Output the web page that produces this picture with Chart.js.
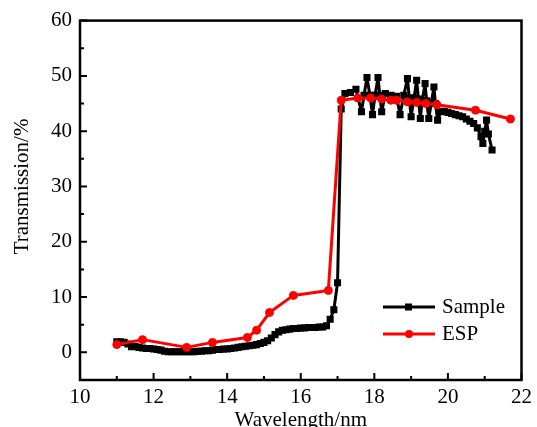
<!DOCTYPE html>
<html>
<head>
<meta charset="utf-8">
<title>Transmission</title>
<script src="https://cdn.jsdelivr.net/npm/chart.js@4.4.0/dist/chart.umd.min.js"></script>
<style>
    html, body { margin: 0; padding: 0; background: #fff; }
    #wrap { width: 537px; height: 427px; }
</style>
</head>
<body>
<div id="wrap"><canvas id="transChart"></canvas></div>
<script>
// Measured sample (black squares)
const sampleWavelength = [
    11.0, 11.1, 11.2, 11.3, 11.4, 11.5, 11.6, 11.7, 11.8, 11.9,
    12.0, 12.1, 12.2, 12.3, 12.4, 12.5, 12.6, 12.7, 12.8, 12.9,
    13.0, 13.1, 13.2, 13.3, 13.4, 13.5, 13.6, 13.7, 13.8, 13.9,
    14.0, 14.1, 14.2, 14.3, 14.4, 14.5, 14.6, 14.7, 14.8, 14.9,
    15.0, 15.1, 15.2, 15.3, 15.4, 15.5, 15.6, 15.7, 15.8, 15.9,
    16.0, 16.1, 16.2, 16.3, 16.4, 16.5, 16.6, 16.7, 16.8, 16.9,
    17.0, 17.1, 17.2, 17.35, 17.5, 17.65, 17.72, 17.8, 17.88, 17.95,
    18.02, 18.1, 18.15, 18.2, 18.3, 18.45, 18.6, 18.7, 18.8, 18.9,
    18.95, 19.0, 19.08, 19.15, 19.2, 19.25, 19.3, 19.38, 19.42, 19.48,
    19.55, 19.62, 19.66, 19.72, 19.8, 19.9, 20.0, 20.1, 20.2, 20.3,
    20.4, 20.5, 20.6, 20.7, 20.8, 20.9, 20.95, 21.0, 21.05, 21.1, 21.2
];
const sampleTransmission = [
    1.9, 1.9, 1.8, 1.5, 1.0, 1.1, 0.9, 0.8, 0.7, 0.7,
    0.6, 0.5, 0.4, 0.2, 0.1, 0.1, 0.1, 0.1, 0.1, 0.1,
    0.1, 0.1, 0.2, 0.2, 0.3, 0.3, 0.4, 0.5, 0.5, 0.6,
    0.6, 0.7, 0.8, 0.9, 1.0, 1.1, 1.2, 1.3, 1.4, 1.6,
    1.8, 2.1, 2.6, 3.2, 3.7, 4.0, 4.1, 4.2, 4.3, 4.3,
    4.4, 4.4, 4.5, 4.5, 4.5, 4.6, 4.6, 4.8, 6.0, 7.7,
    12.6, 44.0, 46.8, 47.0, 47.6, 43.5, 46.5, 49.7, 46.5, 43.0,
    46.5, 49.7, 46.5, 43.5, 46.8, 46.5, 46.3, 43.0, 46.5, 49.5,
    46.0, 42.6, 46.0, 49.2, 45.8, 42.3, 45.5, 48.6, 45.5, 42.3,
    45.2, 48.0, 45.0, 42.0, 43.5, 43.6, 43.4, 43.2, 43.0, 42.8,
    42.6, 42.2, 41.8, 41.4, 40.6, 39.0, 37.8, 40.0, 42.0, 39.5, 36.6
];

// ESP curve (red circles)
const espWavelength = [
    11.0, 11.7, 12.9, 13.6, 14.55, 14.8, 15.15, 15.8, 16.75, 17.1,
    17.55, 17.9, 18.2, 18.45, 18.6, 18.9, 19.15, 19.4, 19.7, 20.75, 21.7
];
const espTransmission = [
    1.4, 2.3, 0.9, 1.8, 2.7, 4.0, 7.2, 10.3, 11.2, 45.6,
    46.0, 46.0, 45.8, 45.6, 45.6, 45.3, 45.2, 45.0, 44.8, 43.8, 42.2
];

const xTicks = [10, 12, 14, 16, 18, 20, 22];
const yTicks = [0, 10, 20, 30, 40, 50, 60];

const FONT = "'Liberation Serif', 'Times New Roman', serif";

function toPoints(xs, ys) {
    return xs.map((x, i) => ({ x: x, y: ys[i] }));
}

// Frame, inward ticks, axis titles and the legend
const framePlugin = {
    id: 'frame',
    afterDraw(chart) {
        const ctx = chart.ctx;
        const area = chart.chartArea;
        const xs = chart.scales.x;
        const ys = chart.scales.y;
        ctx.save();
        ctx.strokeStyle = '#000';
        ctx.lineWidth = 2.5;
        ctx.strokeRect(area.left, area.top, area.right - area.left, area.bottom - area.top);

        ctx.lineWidth = 2;
        ctx.beginPath();
        xTicks.forEach((v, i) => {
            const px = xs.getPixelForValue(v);
            ctx.moveTo(px, area.bottom);
            ctx.lineTo(px, area.bottom - 7);
            if (i < xTicks.length - 1) {
                const mx = xs.getPixelForValue((v + xTicks[i + 1]) / 2);
                ctx.moveTo(mx, area.bottom);
                ctx.lineTo(mx, area.bottom - 4);
            }
        });
        yTicks.forEach((v, i) => {
            const py = ys.getPixelForValue(v);
            ctx.moveTo(area.left, py);
            ctx.lineTo(area.left + 7, py);
            if (i < yTicks.length - 1) {
                const my = ys.getPixelForValue((v + yTicks[i + 1]) / 2);
                ctx.moveTo(area.left, my);
                ctx.lineTo(area.left + 4, my);
            }
        });
        ctx.stroke();

        // axis titles
        ctx.fillStyle = '#000';
        ctx.font = '21px ' + FONT;
        ctx.textAlign = 'center';
        ctx.textBaseline = 'middle';
        ctx.fillText('Wavelength/nm', (area.left + area.right) / 2, 420);
        ctx.save();
        ctx.translate(22, (ys.getPixelForValue(0) + ys.getPixelForValue(60)) / 2);
        ctx.rotate(-Math.PI / 2);
        ctx.fillText('Transmission/%', 0, 0);
        ctx.restore();

        // legend
        const entries = chart.data.datasets.slice().sort((a, b) => b.order - a.order);
        entries.forEach((ds, i) => {
            const y = 307 + i * 27;
            ctx.strokeStyle = ds.borderColor;
            ctx.fillStyle = ds.borderColor;
            ctx.lineWidth = 3;
            ctx.beginPath();
            ctx.moveTo(383, y);
            ctx.lineTo(435, y);
            ctx.stroke();
            if (ds.pointStyle === 'rect') {
                ctx.fillRect(405, y - 3.5, 7, 7);
            } else {
                ctx.beginPath();
                ctx.arc(409, y, 4, 0, Math.PI * 2);
                ctx.fill();
            }
            ctx.fillStyle = '#000';
            ctx.textAlign = 'left';
            ctx.fillText(ds.label, 442, y);
        });
        ctx.restore();
    }
};

const ctx = document.getElementById('transChart').getContext('2d');
const transChart = new Chart(ctx, {
    type: 'scatter',
    data: {
        datasets: [{
            label: 'Sample',
            data: toPoints(sampleWavelength, sampleTransmission),
            showLine: true,
            borderColor: '#000000',
            backgroundColor: '#000000',
            borderWidth: 3,
            borderJoinStyle: 'round',
            pointStyle: 'rect',
            pointRadius: 5,
            pointBorderWidth: 0,
            order: 1
        }, {
            label: 'ESP',
            data: toPoints(espWavelength, espTransmission),
            showLine: true,
            borderColor: '#ff0000',
            backgroundColor: '#ff0000',
            borderWidth: 3,
            borderJoinStyle: 'round',
            pointStyle: 'circle',
            pointRadius: 4,
            pointBorderWidth: 1,
            order: 0
        }]
    },
    options: {
        responsive: true,
        maintainAspectRatio: false,
        animation: false,
        layout: { padding: { top: 20, right: 13, left: 0, bottom: 0 } },
        plugins: {
            legend: { display: false },
            tooltip: { enabled: false }
        },
        scales: {
            x: {
                type: 'linear',
                min: 10,
                max: 22,
                afterBuildTicks: s => { s.ticks = xTicks.map(v => ({ value: v })); },
                afterFit: s => { s.height = 47; },
                grid: { display: false, drawTicks: false },
                border: { display: false },
                ticks: {
                    color: '#000',
                    padding: 5,
                    maxRotation: 0,
                    font: { family: FONT, size: 21 }
                }
            },
            y: {
                type: 'linear',
                min: -5,
                max: 60,
                afterBuildTicks: s => { s.ticks = yTicks.map(v => ({ value: v })); },
                afterFit: s => { s.width = 80; },
                grid: { display: false, drawTicks: false },
                border: { display: false },
                ticks: {
                    color: '#000',
                    padding: 8,
                    font: { family: FONT, size: 21 }
                }
            }
        }
    },
    plugins: [framePlugin]
});
</script>
</body>
</html>
